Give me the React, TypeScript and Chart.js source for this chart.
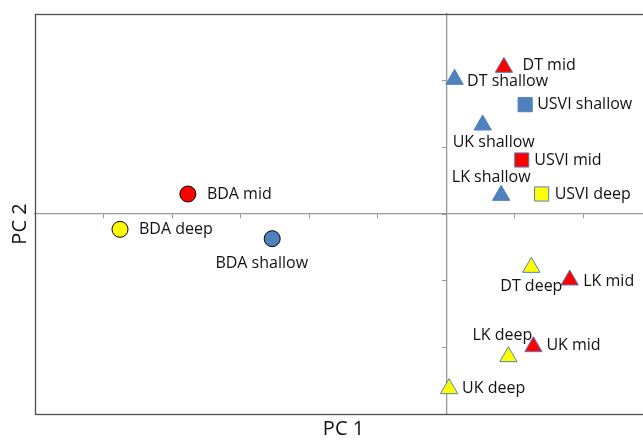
import React, { useEffect, useRef } from "react";
import { Chart, registerables } from "chart.js";

Chart.register(...registerables);

// ---- data ----
const pointLabels = [
  "BDA mid", "BDA deep", "BDA shallow",
  "DT mid", "DT shallow", "DT deep",
  "UK shallow", "UK mid", "UK deep",
  "LK shallow", "LK mid", "LK deep",
  "USVI shallow", "USVI mid", "USVI deep",
];
const sites = ["BDA", "BDA", "BDA", "DT", "DT", "DT", "UK", "UK", "UK", "LK", "LK", "LK", "USVI", "USVI", "USVI"];
const depths = ["mid", "deep", "shallow", "mid", "shallow", "deep", "shallow", "mid", "deep", "shallow", "mid", "deep", "shallow", "mid", "deep"];
const pc1 = [-3.77, -4.76, -2.54, 0.84, 0.12, 1.24, 0.53, 1.27, 0.04, 0.8, 1.8, 0.905, 1.15, 1.1, 1.39];
const pc2 = [0.3, -0.23, -0.37, 2.2, 2.02, -0.8, 1.335, -1.99, -2.62, 0.28, -0.99, -2.14, 1.64, 0.81, 0.3];

const xTitle = "PC 1";
const yTitle = "PC 2";

// ---- styles ----
const depthColor: Record<string, string> = { mid: "#FF0000", deep: "#FFFF00", shallow: "#4F81BD" };
const siteStyle: Record<string, { shape: string; radius: number; border: string }> = {
  BDA: { shape: "circle", radius: 8, border: "#000000" },
  DT: { shape: "triangle", radius: 10, border: "#4F81BD" },
  UK: { shape: "triangle", radius: 10, border: "#4F81BD" },
  LK: { shape: "triangle", radius: 10, border: "#4F81BD" },
  USVI: { shape: "rect", radius: 10, border: "#4F81BD" },
};
// label placement: [dx, dy, align]
const labelPlace: Array<[number, number, CanvasTextAlign]> = [
  [19, 0, "left"], [19, 0, "left"], [-10.5, 25, "center"],
  [18.6, -2, "left"], [12.5, 2, "left"], [0, 19, "center"],
  [11, 17, "center"], [13, -1, "left"], [13, 0, "left"],
  [-10, -18, "center"], [13.5, 1, "left"], [-6, -21, "center"],
  [12, 0, "left"], [12.6, 0, "left"], [13, 0, "left"],
];
const FONT = "'Open Sans', 'DejaVu Sans', sans-serif";

const siteOrder = ["BDA", "DT", "UK", "LK", "USVI"];

export default function App() {
  const ref = useRef<HTMLCanvasElement>(null);
  useEffect(() => {
    if (!ref.current) return;
    const datasets = siteOrder.map((site) => {
      const idx = sites.map((s, i) => (s === site ? i : -1)).filter((i) => i >= 0);
      const st = siteStyle[site];
      return {
        label: site,
        data: idx.map((i) => ({ x: pc1[i], y: pc2[i], i })),
        pointStyle: st.shape,
        pointRadius: st.radius,
        pointHoverRadius: st.radius,
        pointBackgroundColor: idx.map((i) => depthColor[depths[i]]),
        pointBorderColor: st.border,
        pointBorderWidth: 1,
        showLine: false,
      };
    });

    const decor = {
      id: "decor",
      beforeDatasetsDraw(chart: any) {
        const { ctx, chartArea } = chart;
        ctx.save();
        ctx.strokeStyle = "#4d4d4d";
        ctx.lineWidth = 1.3;
        ctx.strokeRect(chartArea.left + 0.5, chartArea.top + 0.5, chartArea.right - chartArea.left, chartArea.bottom - chartArea.top);
        ctx.fillStyle = "#111";
        ctx.font = `20px ${FONT}`;
        ctx.textAlign = "center";
        ctx.textBaseline = "middle";
        ctx.fillText(xTitle, (chartArea.left + chartArea.right) / 2, 429);
        ctx.translate(20, 224);
        ctx.rotate(-Math.PI / 2);
        ctx.fillText(yTitle, 0, 0);
        ctx.restore();
      },
      afterDatasetsDraw(chart: any) {
        const { ctx } = chart;
        ctx.save();
        ctx.fillStyle = "#111";
        ctx.font = `16px ${FONT}`;
        ctx.textBaseline = "middle";
        chart.data.datasets.forEach((ds: any, di: number) => {
          const meta = chart.getDatasetMeta(di);
          meta.data.forEach((el: any, j: number) => {
            const i = ds.data[j].i;
            const [dx, dy, align] = labelPlace[i];
            ctx.textAlign = align;
            ctx.fillText(pointLabels[i], el.x + dx, el.y + dy);
          });
        });
        ctx.restore();
      },
    };

    const axisCommon = {
      type: "linear" as const,
      grid: { drawOnChartArea: false, drawTicks: true, tickLength: 4, color: "#999999", lineWidth: 1 },
      border: { display: true, color: "#999999", width: 1.3 },
      ticks: { display: false, stepSize: 1 },
    };

    const chart = new Chart(ref.current, {
      type: "scatter",
      data: { datasets: datasets as any },
      options: {
        animation: false,
        responsive: false,
        maintainAspectRatio: false,
        layout: { padding: { left: 35, top: 14, right: 0, bottom: 26 } },
        plugins: { legend: { display: false }, tooltip: { enabled: false }, title: { display: false } },
        scales: {
          x: { ...axisCommon, min: -6, max: 3, position: { y: 0 } as any },
          y: { ...axisCommon, min: -3, max: 3, position: { x: 0 } as any },
        },
      } as any,
      plugins: [decor],
    });
    return () => chart.destroy();
  }, []);

  return (
    <div style={{ position: "fixed", left: 0, top: 0, width: 643, height: 440, overflow: "hidden", background: "#fff" }}>
      <canvas ref={ref} width={663} height={440} style={{ width: 663, height: 440, display: "block" }} />
    </div>
  );
}
